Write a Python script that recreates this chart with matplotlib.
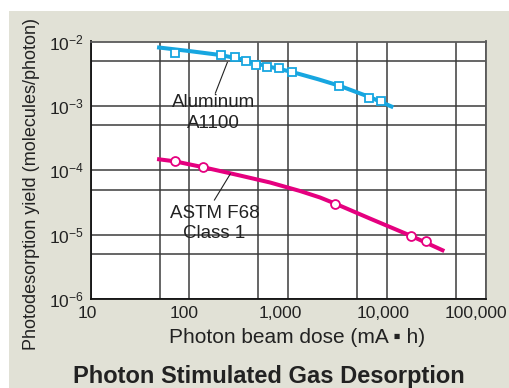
import matplotlib
matplotlib.use("Agg")
import matplotlib.pyplot as plt
import matplotlib.transforms as mtransforms
from matplotlib.patches import Rectangle
from matplotlib.ticker import FixedLocator, NullFormatter

plt.rcParams.update({
    "font.family": ["Liberation Sans", "DejaVu Sans"],
    "mathtext.fontset": "custom",
    "mathtext.rm": "Liberation Sans",
    "mathtext.it": "Liberation Sans:italic",
    "mathtext.bf": "Liberation Sans:bold",
})

# Aluminum A1100: smooth curve and measured points
al_curve_dose  = [47, 99, 204, 330, 472, 700, 1092, 2000, 3294, 6640, 11590]
al_curve_yield = [8.13e-3, 7.12e-3, 6.18e-3, 5.35e-3, 4.56e-3, 3.95e-3, 3.37e-3,
                  2.6e-3, 2.06e-3, 1.38e-3, 9.53e-4]
al_pts_dose    = [71.5, 207, 287, 371, 472, 606, 813, 1100, 3294, 6536, 8710]
al_pts_yield   = [6.7e-3, 6.18e-3, 5.81e-3, 5.03e-3, 4.36e-3, 3.98e-3, 3.84e-3,
                  3.4e-3, 2.06e-3, 1.34e-3, 1.19e-3]

# ASTM F68 Class 1 (OFHC copper)
cu_curve_dose  = [47, 71.5, 138, 325, 655, 1318, 2100, 2980, 6730, 17660, 38100]
cu_curve_yield = [1.5e-4, 1.38e-4, 1.12e-4, 8.33e-5, 6.49e-5, 4.79e-5, 3.8e-5,
                  3.06e-5, 1.79e-5, 9.6e-6, 5.6e-6]
cu_pts_dose    = [71.5, 138, 2980, 17660, 24680]
cu_pts_yield   = [1.38e-4, 1.12e-4, 2.98e-5, 9.6e-6, 8.1e-6]

x_ticks  = [10, 100, 1000, 10000, 100000]
x_labels = ["10", "100", "1,000", "10,000", "100,000"]
x_shift  = [-3.4, -5, -7.7, -3.6, -9.3]   # px nudges for the tick labels
y_ticks  = [1e-6, 1e-5, 1e-4, 1e-3, 1e-2]
y_labels = [r"$\mathregular{10^{-6}}$", r"$\mathregular{10^{-5}}$", r"$\mathregular{10^{-4}}$",
            r"$\mathregular{10^{-3}}$", r"$\mathregular{10^{-2}}$"]

BG      = "#e1e1d6"
CYAN    = "#17a6e0"
MAGENTA = "#e5007f"
INK     = "#222222"
GRID    = "#3c3c3c"

W, H = 509, 388
fig = plt.figure(figsize=(W / 100, H / 100), dpi=100)
fig.patches.append(Rectangle((9 / W, 0), 1, 1 - 11 / H, transform=fig.transFigure,
                             facecolor=BG, edgecolor="none", zorder=-10))

ax = fig.add_axes([90.7 / W, (H - 299.3) / H, (485.7 - 90.7) / W, (299.3 - 41.5) / H])
ax.set_facecolor("white")
ax.set_xscale("log")
ax.set_yscale("log")
ax.set_xlim(10, 1e5)
ax.set_ylim(1e-6, 1e-2)

ax.xaxis.set_major_locator(FixedLocator(x_ticks))
ax.xaxis.set_minor_locator(FixedLocator([50, 500, 5000, 50000]))
ax.yaxis.set_major_locator(FixedLocator(y_ticks))
ax.yaxis.set_minor_locator(FixedLocator([5e-6, 5e-5, 5e-4, 5e-3]))
ax.xaxis.set_minor_formatter(NullFormatter())
ax.yaxis.set_minor_formatter(NullFormatter())
ax.set_xticklabels(x_labels, fontsize=12.5, color=INK)
ax.set_yticklabels(y_labels, fontsize=12.5, color=INK)
ax.tick_params(which="both", length=0)
ax.tick_params(axis="x", pad=5)
ax.tick_params(axis="y", pad=5)

for lbl, dx in zip(ax.get_xticklabels(), x_shift):
    lbl.set_transform(lbl.get_transform() +
                      mtransforms.ScaledTranslation(dx / 100, 0, fig.dpi_scale_trans))

ax.grid(True, which="both", color=GRID, lw=1.1)
ax.set_axisbelow(True)
for side in ["left", "bottom"]:
    ax.spines[side].set_color("#111111")
    ax.spines[side].set_linewidth(1.3)
for side in ["top", "right"]:
    ax.spines[side].set_color("#5a5a5a")
    ax.spines[side].set_linewidth(1.3)

# curves and markers
ax.plot(al_curve_dose, al_curve_yield, color=CYAN, lw=2.9, solid_capstyle="butt",
        solid_joinstyle="round", zorder=3)
ax.plot(al_pts_dose, al_pts_yield, "s", ms=5.8, mfc="white", mec=CYAN, mew=1.3, zorder=4)
ax.plot(cu_curve_dose, cu_curve_yield, color=MAGENTA, lw=2.9, solid_capstyle="butt",
        solid_joinstyle="round", zorder=3)
ax.plot(cu_pts_dose, cu_pts_yield, "o", ms=6.4, mfc="white", mec=MAGENTA, mew=1.3, zorder=4)

# leader lines and labels
ax.plot([183, 242], [1.58e-3, 4.75e-3], color=INK, lw=0.8, zorder=5)
ax.plot([179, 259], [3.47e-5, 8.8e-5], color=INK, lw=0.8, zorder=5)
ax.text(175, 7.8e-4, "Aluminum\nA1100", ha="center", va="center", fontsize=13.5,
        color=INK, linespacing=1.25, zorder=6)
ax.text(179, 1.5e-5, "ASTM F68\nClass 1", ha="center", va="center", fontsize=13.5,
        color=INK, linespacing=1.25, zorder=6)

fig.text(297 / W, 1 - 343 / H, "Photon beam dose (mA \u25aa h)", ha="center", va="baseline",
         fontsize=15, color=INK)
fig.text(31.7 / W, 1 - 184 / H, "Photodesorption yield (molecules/photon)", rotation=90,
         ha="center", va="center", fontsize=13, color=INK)
fig.text(269 / W, 1 - 383 / H, "Photon Stimulated Gas Desorption", ha="center",
         va="baseline", fontsize=17, fontweight="bold", color=INK)

fig.savefig("out.png", dpi=100)
